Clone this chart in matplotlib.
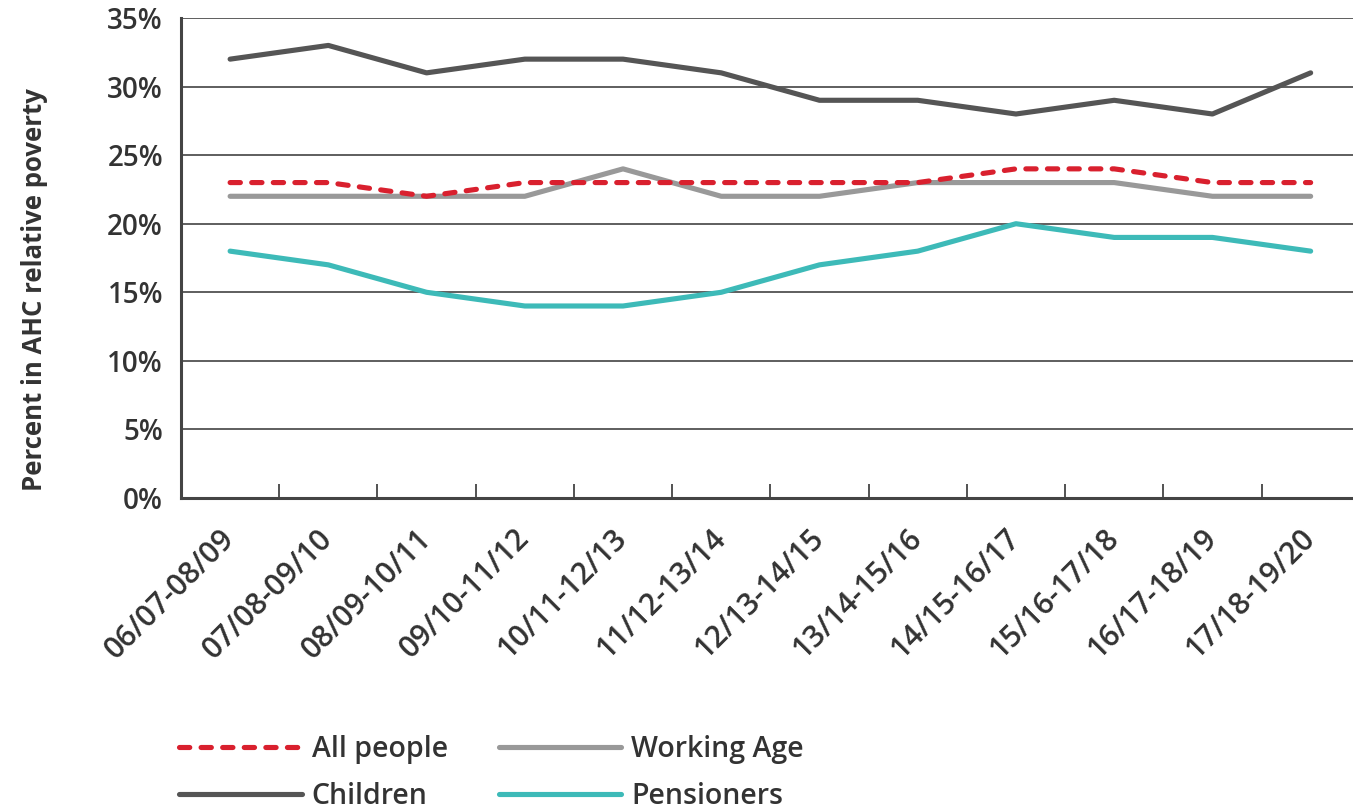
import matplotlib
matplotlib.use('Agg')
import matplotlib.pyplot as plt
from matplotlib.ticker import FixedLocator, PercentFormatter

# data
periods = ['06/07-08/09', '07/08-09/10', '08/09-10/11', '09/10-11/12',
           '10/11-12/13', '11/12-13/14', '12/13-14/15', '13/14-15/16',
           '14/15-16/17', '15/16-17/18', '16/17-18/19', '17/18-19/20']
all_people = [23, 23, 22, 23, 23, 23, 23, 23, 24, 24, 23, 23]
children = [32, 33, 31, 32, 32, 31, 29, 29, 28, 29, 28, 31]
working_age = [22, 22, 22, 22, 24, 22, 22, 23, 23, 23, 22, 22]
pensioners = [18, 17, 15, 14, 14, 15, 17, 18, 20, 19, 19, 18]
y_ticks = [0, 5, 10, 15, 20, 25, 30, 35]

txt = '#333333'
plt.rcParams['font.family'] = ['Open Sans', 'DejaVu Sans']

fig1 = plt.figure(figsize=(13.53, 8.08), dpi=100)
ax1 = fig1.add_axes([181/1353, 1 - 498/808, 1 - 181/1353 + 0.005, 480/808])

x = list(range(len(periods)))
lw = 3.7
ax1.plot(x, children, color='#555555', lw=lw, solid_capstyle='round',
         solid_joinstyle='round', label='Children', zorder=3)
ax1.plot(x, working_age, color='#999999', lw=lw, solid_capstyle='round',
         solid_joinstyle='round', label='Working Age', zorder=3)
ax1.plot(x, pensioners, color='#3dbab8', lw=lw, solid_capstyle='round',
         solid_joinstyle='round', label='Pensioners', zorder=3)
ax1.plot(x, all_people, color='#d9202e', lw=lw, dashes=(2.0, 2.2),
         dash_capstyle='round', label='All people', zorder=4)

ax1.set_xlim(-0.5, len(periods) - 0.5)
ax1.set_ylim(0, 35)

# horizontal gridlines
ax1.set_yticks(y_ticks)
ax1.yaxis.set_major_formatter(PercentFormatter(decimals=0))
ax1.grid(axis='y', color='#333333', lw=1.1, zorder=1)
ax1.tick_params(axis='y', length=0, pad=13, labelsize=20, labelcolor=txt)
for lab in ax1.get_yticklabels():
    lab.set_fontweight('semibold')

# category labels plus boundary tick marks
ax1.set_xticks(x)
ax1.set_xticklabels(periods, rotation=45, ha='right', va='center',
                    rotation_mode='anchor', fontsize=21.5, color=txt,
                    fontweight='semibold')
ax1.tick_params(axis='x', which='major', length=0, pad=26)
ax1.xaxis.set_minor_locator(FixedLocator([i + 0.5 for i in x[:-1]]))
ax1.tick_params(axis='x', which='minor', direction='in', length=10,
                width=1.3, color='#444444')

for s in ['top', 'right']:
    ax1.spines[s].set_visible(False)
for s in ['bottom', 'left']:
    ax1.spines[s].set_color('#444444')
    ax1.spines[s].set_linewidth(2.2)

ax1.set_ylabel('Percent in AHC relative poverty', fontsize=18.5,
               fontweight='bold', color=txt)
ax1.yaxis.set_label_coords(-0.113, 0.435)

h, l = ax1.get_legend_handles_labels()
order = [3, 0, 1, 2]
leg = fig1.legend([h[i] for i in order], [l[i] for i in order], ncol=2,
                  loc='center left', bbox_to_anchor=(165/1353, 1 - 773/808),
                  frameon=False, fontsize=20.5, handlelength=4.3,
                  handletextpad=0.35, columnspacing=1.8, labelspacing=0.6,
                  borderpad=0, labelcolor=txt)
for t in leg.get_texts():
    t.set_fontweight('semibold')

fig1.savefig('out.png', dpi=100)
